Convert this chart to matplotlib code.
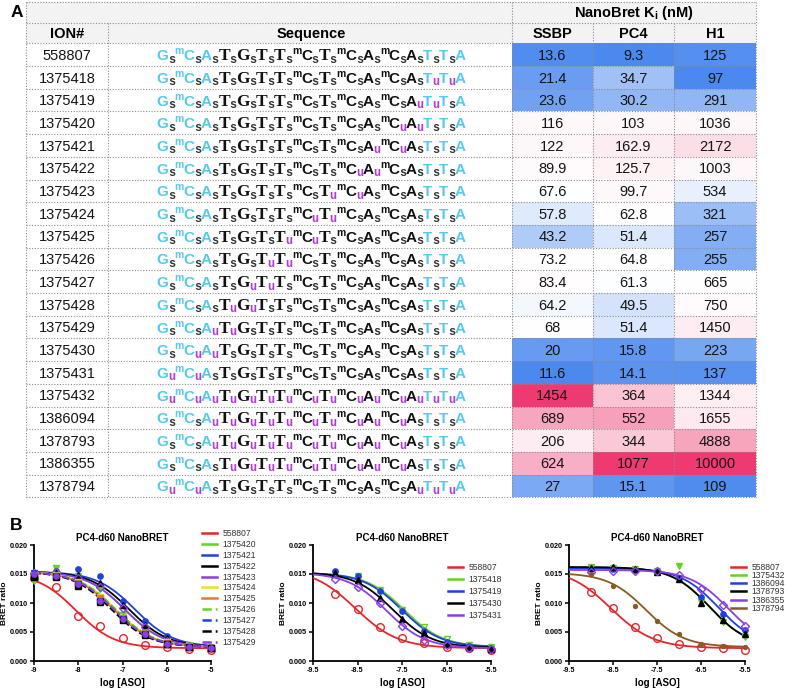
import numpy as np
import matplotlib
matplotlib.use('Agg')
import matplotlib.pyplot as plt
from matplotlib.colors import LinearSegmentedColormap, TwoSlopeNorm
from matplotlib.font_manager import FontProperties
from matplotlib.patches import Rectangle
from matplotlib.ticker import FormatStrFormatter

plt.rcParams['font.family'] = ['Liberation Sans', 'DejaVu Sans']
plt.rcParams['mathtext.fontset'] = 'custom'
plt.rcParams['mathtext.rm'] = 'Liberation Sans'
plt.rcParams['mathtext.bf'] = 'Liberation Sans:bold'
plt.rcParams['axes.unicode_minus'] = False

# ---- panel A data ----
ion_ids = ['558807', '1375418', '1375419', '1375420', '1375421', '1375422', '1375423',
           '1375424', '1375425', '1375426', '1375427', '1375428', '1375429', '1375430',
           '1375431', '1375432', '1386094', '1378793', '1386355', '1378794']
bases = 'GCATGTTCTCACATTA'
linkages = ['sssssssssssssss', 'sssssssssssssuu', 'ssssssssssssuus', 'sssssssssssuuss',
            'ssssssssssuusss', 'sssssssssuussss', 'ssssssssuusssss', 'sssssssuussssss',
            'ssssssuusssssss', 'sssssuussssssss', 'ssssuusssssssss', 'sssuussssssssss',
            'ssuusssssssssss', 'suussssssssssss', 'uusssssssssssss', 'uuuuuuuuuuuuuuu',
            'ssuuuuuuuuuusss', 'ssuuuuuuuuuusss', 'sssuuuuuuuuusss', 'uussssssssssuuu']
ssbp = [13.6, 21.4, 23.6, 116, 122, 89.9, 67.6, 57.8, 43.2, 73.2, 83.4, 64.2, 68, 20, 11.6,
        1454, 689, 206, 624, 27]
pc4 = [9.3, 34.7, 30.2, 103, 162.9, 125.7, 99.7, 62.8, 51.4, 64.8, 61.3, 49.5, 51.4, 15.8,
       14.1, 364, 552, 344, 1077, 15.1]
h1 = [125, 97, 291, 1036, 2172, 1003, 534, 321, 257, 255, 665, 750, 1450, 223, 137, 1344,
      1655, 4888, 10000, 109]

# ---- panel B data (fit parameters: top, bottom, logIC50, hill) ----
p1_ids = ['558807', '1375420', '1375421', '1375422', '1375423', '1375424', '1375425',
          '1375426', '1375427', '1375428', '1375429']
p1_x = [-9, -8.5, -8, -7.5, -7, -6.5, -6, -5.5, -5]
p1_y = [[0.0143, 0.0128, 0.0078, 0.0060, 0.0040, 0.0028, 0.0024, 0.0021, 0.0019],
        [0.0138, 0.0160, 0.0146, 0.0125, 0.0080, 0.0050, 0.0034, 0.0027, 0.0023],
        [0.0150, 0.0156, 0.0159, 0.0146, 0.0104, 0.0069, 0.0043, 0.0028, 0.0024],
        [0.0146, 0.0152, 0.0148, 0.0134, 0.0097, 0.0062, 0.0039, 0.0027, 0.0023],
        [0.0152, 0.0154, 0.0143, 0.0128, 0.0091, 0.0058, 0.0035, 0.0026, 0.0022],
        [0.0150, 0.0149, 0.0136, 0.0110, 0.0076, 0.0049, 0.0032, 0.0026, 0.0023],
        [0.0149, 0.0146, 0.0134, 0.0108, 0.0074, 0.0048, 0.0031, 0.0025, 0.0023],
        [0.0153, 0.0148, 0.0135, 0.0106, 0.0078, 0.0047, 0.0030, 0.0025, 0.0024],
        [0.0151, 0.0147, 0.0132, 0.0104, 0.0073, 0.0046, 0.0030, 0.0025, 0.0023],
        [0.0144, 0.0145, 0.0130, 0.0102, 0.0070, 0.0044, 0.0029, 0.0024, 0.0022],
        [0.0150, 0.0146, 0.0133, 0.0104, 0.0072, 0.0046, 0.0030, 0.0025, 0.0023]]
p1_top = [0.0152, 0.0154, 0.0154, 0.0154, 0.0154, 0.0154, 0.0154, 0.0154, 0.0154, 0.0154, 0.0154]
p1_bot = [0.0022, 0.0024, 0.0024, 0.0024, 0.0024, 0.0024, 0.0024, 0.0024, 0.0024, 0.0024, 0.0024]
p1_ic = [-8.05, -6.95, -6.72, -6.85, -6.95, -7.15, -7.2, -7.15, -7.2, -7.25, -7.2]
p1_hill = [1.0] * 11
p1_colors = ['#e5262b', '#62d322', '#1f3fe0', '#000000', '#8a3ee6', '#ece31a', '#e8782a',
             '#62d322', '#1f3fe0', '#000000', '#8a3ee6']
p1_ls = ['-', '-', '-', '-', '-', '-', '-', '--', '--', '--', '--']
p1_mk = ['o', 'v', 'o', '^', 'D', 's', 's', '^', 'v', 's', 'o']
p1_open = [True, False, False, False, True, False, False, False, False, False, False]

p2_ids = ['558807', '1375418', '1375419', '1375430', '1375431']
p2_x = [-9, -8.5, -8, -7.5, -7, -6.5, -6, -5.5]
p2_y = [[0.0116, 0.0090, 0.0058, 0.0039, 0.0031, 0.0024, 0.0022, 0.0019],
        [0.0150, 0.0146, 0.0123, 0.0088, 0.0059, 0.0038, 0.0027, 0.0024],
        [0.0155, 0.0146, 0.0120, 0.0087, 0.0052, 0.0033, 0.0026, 0.0022],
        [0.0152, 0.0139, 0.0108, 0.0072, 0.0049, 0.0029, 0.0024, 0.0021],
        [0.0141, 0.0128, 0.0100, 0.0061, 0.0037, 0.0028, 0.0023, 0.0020]]
p2_top = [0.0160, 0.0152, 0.0152, 0.0153, 0.0152]
p2_bot = [0.0022, 0.0024, 0.0024, 0.0023, 0.0022]
p2_ic = [-8.55, -7.45, -7.5, -7.7, -7.85]
p2_hill = [0.9, 1.0, 1.0, 1.0, 1.0]
p2_colors = ['#e5262b', '#62d322', '#1f3fe0', '#000000', '#8a3ee6']
p2_mk = ['o', 'v', 'o', '^', 'D']
p2_open = [True, True, False, False, True]

p3_ids = ['558807', '1375432', '1386094', '1378793', '1386355', '1378794']
p3_x = [-9, -8.5, -8, -7.5, -7, -6.5, -6, -5.5]
p3_y = [[0.0119, 0.0091, 0.0059, 0.0039, 0.0030, 0.0025, 0.0023, 0.0019],
        [0.0162, 0.0160, 0.0158, 0.0156, 0.0163, 0.0102, 0.0068, 0.0042],
        [0.0158, 0.0159, 0.0157, 0.0153, 0.0143, 0.0111, 0.0081, 0.0053],
        [0.0160, 0.0162, 0.0159, 0.0154, 0.0142, 0.0100, 0.0070, 0.0047],
        [0.0154, 0.0155, 0.0156, 0.0156, 0.0148, 0.0124, 0.0096, 0.0061],
        [0.0150, 0.0130, 0.0094, 0.0069, 0.0047, 0.0030, 0.0026, 0.0024]]
p3_top = [0.0160, 0.0162, 0.0160, 0.0162, 0.0157, 0.0152]
p3_bot = [0.0022, 0.0024, 0.0024, 0.0024, 0.0024, 0.0024]
p3_ic = [-8.55, -6.3, -6.1, -6.3, -5.88, -7.75]
p3_hill = [0.9, 1.0, 1.0, 1.0, 1.0, 1.0]
p3_colors = ['#e5262b', '#62d322', '#1f3fe0', '#000000', '#8a3ee6', '#8b5a22']
p3_mk = ['o', 'v', 'o', '^', 'D', 'o']
p3_open = [True, False, False, False, True, False]

W, H = 794, 689
fig = plt.figure(figsize=(W / 100, H / 100), dpi=100)
ov = fig.add_axes([0, 0, 1, 1], zorder=0)
ov.set_xlim(0, W)
ov.set_ylim(H, 0)
ov.axis('off')

# ---- table ----
col_edges = [26, 108, 512, 593, 674, 756]
hdr_top, hdr_mid, data_top, row_h = 2, 22.7, 43.3, 22.7
n = len(ion_ids)
ov.add_patch(Rectangle((col_edges[0], hdr_top), col_edges[-1] - col_edges[0],
                       data_top - hdr_top, fc='#f3f3f3', ec='none'))

cmap = LinearSegmentedColormap.from_list('bwp', ['#4b89ee', '#ffffff', '#ee3a70'])
for j, col in enumerate([ssbp, pc4, h1]):
    norm = TwoSlopeNorm(vmin=min(col), vcenter=float(np.median(col)), vmax=max(col))
    x0 = col_edges[2 + j]
    w = col_edges[3 + j] - x0
    for i, v in enumerate(col):
        y0 = data_top + i * row_h
        ov.add_patch(Rectangle((x0, y0), w, row_h, fc=cmap(norm(v)), ec='none'))
        ov.text(x0 + w / 2, y0 + row_h / 2 + 5.2, f'{v:g}', ha='center', va='baseline',
                fontsize=10.5, color='#151515')

for i, ion in enumerate(ion_ids):
    ov.text(67, data_top + i * row_h + row_h / 2 + 5.2, ion, ha='center', va='baseline',
            fontsize=10.5, color='#151515')

hy = [hdr_top, hdr_mid] + [data_top + i * row_h for i in range(n + 1)]
ov.hlines(hy, col_edges[0], col_edges[-1], colors='#8c8c8c', lw=0.8, linestyles=(0, (1, 1.5)))
for x in col_edges:
    y_start = hdr_top if x in (26, 512, 756) else hdr_mid
    ov.vlines(x, y_start, hy[-1], colors='#8c8c8c', lw=0.8, linestyles=(0, (1, 1.5)))

hy2 = hdr_mid + (data_top - hdr_mid) / 2 + 5.2
ov.text(67, hy2, 'ION#', ha='center', va='baseline', fontsize=10.5, fontweight='bold')
ov.text(311, hy2, 'Sequence', ha='center', va='baseline', fontsize=10.5, fontweight='bold')
for j, lab in enumerate(['SSBP', 'PC4', 'H1']):
    ov.text((col_edges[2 + j] + col_edges[3 + j]) / 2, hy2, lab, ha='center', va='baseline',
            fontsize=10.5, fontweight='bold')
ov.text(634, 17, r'NanoBret K$_\mathbf{i}$ (nM)', ha='center', va='baseline',
        fontsize=10.5, fontweight='bold')

ov.text(17, 12.5, 'A', ha='center', va='center', fontsize=12.5, fontweight='bold')
ov.text(16, 525, 'B', ha='center', va='center', fontsize=12.5, fontweight='bold')

# ---- sequences ----
cyan = '#55c9ee'
purple = '#b43ad8'
fp_sans = FontProperties(family='Liberation Sans', weight='bold', size=11)
fp_serif = FontProperties(family='Liberation Serif', weight='bold', size=12.5)
fp_sub = FontProperties(family='Liberation Mono', weight='bold', size=8.5)
fp_sup = FontProperties(family='Liberation Sans', weight='bold', size=7.5)
rend = fig.canvas.get_renderer()
seq_w, seq_cx = 309, 311

for r, link in enumerate(linkages):
    toks = []
    for i, b in enumerate(bases):
        wing = i < 3 or i > 12
        c = cyan if wing else '#111111'
        if b == 'C':
            toks.append(('m', fp_sup, c, -6.0))
        fp = fp_serif if (not wing and b in 'TG') else fp_sans
        toks.append((b, fp, c, 0.0))
        if i < len(link):
            lk = link[i]
            toks.append((lk, fp_sub, '#333333' if lk == 's' else purple, 2.5))
    widths = [rend.get_text_width_height_descent(t[0], t[1], ismath=False)[0] for t in toks]
    gap = (seq_w - sum(widths)) / (len(toks) - 1)
    x = seq_cx - seq_w / 2
    yb = data_top + r * row_h + row_h / 2 + 5.5
    for (s, fp, c, dy), wd in zip(toks, widths):
        ov.text(x, yb + dy, s, fontproperties=fp, color=c, ha='left', va='baseline')
        x += wd + gap


# ---- panel B ----
def sig(x, top, bot, c, h):
    return bot + (top - bot) / (1 + 10 ** ((x - c) * h))


def px_axes(x0, x1, ytop, ybot):
    return fig.add_axes([x0 / W, 1 - ybot / H, (x1 - x0) / W, (ybot - ytop) / H])


def panel(ax, xlim, ticks, ids, xs, ys, tops, bots, ics, hills, colors, mks, opens, lss,
          leg_xy, leg_sp):
    xf = np.linspace(xlim[0], xlim[1], 300)
    lines = []
    for k in range(len(ids)):
        ln, = ax.plot(xf, sig(xf, tops[k], bots[k], ics[k], hills[k]), color=colors[k],
                      ls=lss[k], lw=1.3, zorder=3)
        lines.append(ln)
        big = opens[k] and k == 0
        small = colors[k] == '#8b5a22'
        ax.plot(xs, ys[k], ls='none', marker=mks[k], ms=5.5 if big else (2.8 if small else 3.8),
                mfc='none' if opens[k] else colors[k], mec=colors[k], mew=1.0,
                clip_on=False, zorder=4)
    ax.set_xlim(*xlim)
    ax.set_ylim(0, 0.020)
    ax.set_xticks(ticks)
    ax.set_yticks([0, 0.005, 0.010, 0.015, 0.020])
    ax.yaxis.set_major_formatter(FormatStrFormatter('%.3f'))
    for s in ['top', 'right']:
        ax.spines[s].set_visible(False)
    for s in ['left', 'bottom']:
        ax.spines[s].set_linewidth(1.3)
    ax.tick_params(width=1.1, length=3, labelsize=5.2, pad=1.5)
    for lab in ax.get_xticklabels() + ax.get_yticklabels():
        lab.set_fontweight('bold')
    ax.set_title('PC4-d60 NanoBRET', fontsize=7, fontweight='bold', pad=3)
    ax.set_xlabel('log [ASO]', fontsize=7, fontweight='bold', labelpad=3)
    ax.set_ylabel('BRET ratio', fontsize=6, fontweight='bold', labelpad=1)
    leg = ax.legend(lines, ids, loc='upper left', bbox_to_anchor=(leg_xy[0] / W, 1 - leg_xy[1] / H),
                    bbox_transform=fig.transFigure, frameon=False, fontsize=6.2,
                    handlelength=1.7, handletextpad=0.7, labelspacing=leg_sp,
                    borderpad=0, borderaxespad=0)
    for h in leg.legend_handles:
        h.set_linewidth(1.8)
    for t in leg.get_texts():
        t.set_color('#333333')


ax1 = px_axes(34, 211, 545, 661)
panel(ax1, (-9, -5), [-9, -8, -7, -6, -5], p1_ids, p1_x, p1_y, p1_top, p1_bot, p1_ic,
      p1_hill, p1_colors, p1_mk, p1_open, p1_ls, (202, 529), 0.22)

ax2 = px_axes(313, 491, 545, 661)
panel(ax2, (-9.5, -5.5), [-9.5, -8.5, -7.5, -6.5, -5.5], p2_ids, p2_x, p2_y, p2_top, p2_bot,
      p2_ic, p2_hill, p2_colors, p2_mk, p2_open, ['-'] * 5, (448, 563), 0.36)

ax3 = px_axes(569, 745, 545, 661)
panel(ax3, (-9.5, -5.5), [-9.5, -8.5, -7.5, -6.5, -5.5], p3_ids, p3_x, p3_y, p3_top, p3_bot,
      p3_ic, p3_hill, p3_colors, p3_mk, p3_open, ['-'] * 6, (731, 563), -0.1)

fig.savefig('out.png', dpi=100)
